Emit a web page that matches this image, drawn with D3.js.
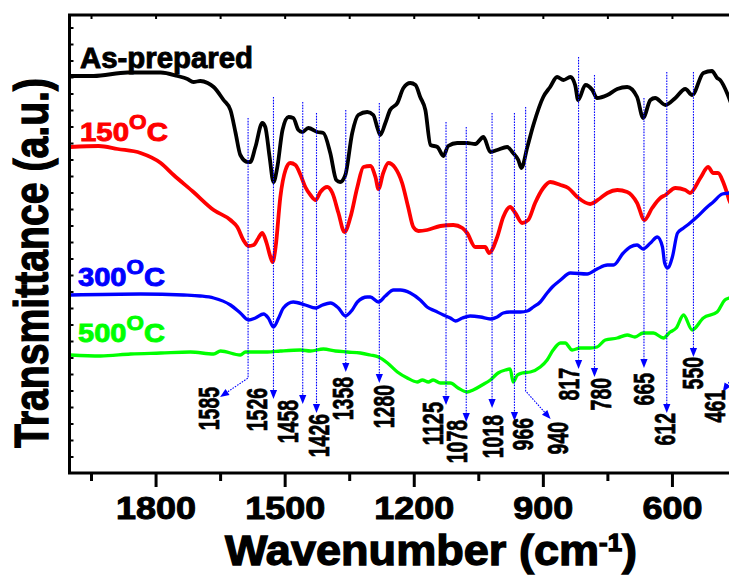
<!doctype html>
<html>
<head>
<meta charset="utf-8">
<style>
  body { margin: 0; background: #fff; }
  svg { display: block; overflow: hidden; background: #fff; }
  text { font-family: "Liberation Sans", Arial, Helvetica, sans-serif; font-weight: bold; }
</style>
<script src="https://cdnjs.cloudflare.com/ajax/libs/d3/7.8.5/d3.min.js"></script>
</head>
<body>
<script>

// spectra: [wavenumber (cm-1), transmittance (a.u., offset)]
var asPrepared = [[1998,79.4],[1944,79.4],[1865,80.1],[1788,80.1],[1749,79.4],[1726,78.8],[1712,78.2],[1696,78.4],[1679,78.0],[1665,77.2],[1642,74.6],[1626,72.6],[1614,68.0],[1603,63.6],[1586,62.2],[1580,62.2],[1568,65.2],[1552,70.0],[1545,69.2],[1535,63.2],[1526,58.2],[1517,61.2],[1505,68.6],[1491,71.2],[1480,71.0],[1468,68.6],[1459,68.2],[1445,69.0],[1424,68.2],[1410,68.0],[1394,64.0],[1380,58.6],[1371,58.2],[1359,59.6],[1343,68.0],[1329,71.6],[1308,72.2],[1294,71.6],[1285,69.2],[1278,67.6],[1266,70.0],[1255,72.6],[1238,74.0],[1224,77.0],[1208,78.0],[1196,77.6],[1185,75.2],[1173,72.6],[1161,65.6],[1145,65.2],[1131,63.4],[1120,65.4],[1099,66.0],[1076,66.0],[1057,65.8],[1038,67.2],[1022,64.2],[1006,64.6],[983,65.2],[969,64.0],[957,62.6],[950,61.0],[936,65.2],[922,69.6],[899,75.2],[883,77.2],[867,79.2],[852,78.6],[836,79.2],[825,77.6],[818,74.6],[801,77.6],[785,76.6],[774,75.0],[750,75.6],[727,76.8],[704,77.2],[681,75.2],[667,71.0],[650,74.6],[639,75.0],[615,73.6],[592,75.0],[569,76.8],[553,75.6],[527,80.0],[507,80.4],[495,79.0],[488,78.6],[470,75.6],[455,72.0]];

var t150 = [[1998,65.2],[1932,65.4],[1888,64.8],[1835,64.0],[1788,62.0],[1758,59.6],[1712,56.2],[1665,52.6],[1626,50.6],[1610,49.2],[1596,46.6],[1584,45.4],[1572,45.6],[1561,47.0],[1552,48.0],[1542,46.0],[1533,43.2],[1528,42.2],[1521,45.2],[1510,55.2],[1498,60.6],[1487,62.0],[1475,61.6],[1463,59.6],[1452,57.2],[1440,55.6],[1428,54.6],[1417,56.2],[1401,57.2],[1389,56.0],[1375,52.0],[1361,48.2],[1347,51.2],[1331,57.2],[1317,61.2],[1301,61.4],[1289,59.2],[1282,56.8],[1271,60.0],[1259,62.0],[1243,61.0],[1227,58.0],[1213,53.2],[1201,49.2],[1189,48.4],[1169,48.6],[1138,49.4],[1108,49.6],[1087,49.0],[1076,48.0],[1057,45.2],[1034,45.2],[1025,44.0],[1006,47.2],[992,51.2],[976,53.2],[964,52.0],[948,50.0],[934,50.6],[918,54.0],[899,57.0],[883,58.2],[859,57.6],[841,57.0],[820,55.2],[790,53.8],[766,55.0],[750,56.0],[727,56.6],[704,56.2],[681,54.0],[664,50.6],[646,53.0],[627,55.0],[615,55.6],[592,57.0],[569,56.6],[558,56.0],[534,59.0],[516,61.2],[504,60.0],[493,60.0],[481,58.2],[472,56.0],[467,54.6],[455,53.0]];

var t300 = [[1998,35.6],[1835,35.8],[1735,35.6],[1696,35.4],[1665,35.0],[1626,33.6],[1603,32.0],[1584,30.6],[1568,31.0],[1549,31.8],[1538,31.0],[1526,29.2],[1514,31.0],[1503,33.0],[1480,34.2],[1452,33.6],[1428,33.0],[1412,33.6],[1394,34.0],[1375,33.0],[1359,31.4],[1343,32.6],[1331,34.2],[1308,35.2],[1301,35.2],[1282,34.2],[1266,35.4],[1247,36.6],[1231,36.6],[1208,36.0],[1185,34.6],[1169,33.2],[1150,32.4],[1131,31.6],[1115,31.0],[1103,30.4],[1087,31.0],[1069,31.4],[1045,31.2],[1022,30.8],[1006,31.2],[992,32.0],[976,32.2],[952,32.2],[936,32.4],[922,33.2],[906,34.2],[890,36.0],[878,37.2],[859,38.6],[836,40.0],[797,39.8],[774,40.8],[750,41.6],[736,41.6],[713,44.0],[697,45.2],[681,45.6],[667,44.8],[650,46.0],[634,47.2],[622,45.2],[617,42.0],[610,41.0],[599,43.2],[587,48.0],[573,49.0],[558,50.0],[542,51.2],[518,53.2],[504,54.2],[483,55.8],[467,56.0],[455,56.2]];

var t500 = [[1998,23.6],[1928,23.4],[1858,23.8],[1788,24.0],[1719,24.2],[1665,23.8],[1649,24.4],[1603,23.6],[1591,24.2],[1540,24.2],[1510,24.4],[1463,24.6],[1440,24.4],[1410,24.8],[1382,24.4],[1354,24.2],[1324,24.0],[1301,23.6],[1282,23.2],[1261,22.0],[1238,20.2],[1215,19.0],[1192,18.2],[1180,18.6],[1166,18.2],[1155,18.6],[1138,18.0],[1115,18.0],[1097,17.0],[1076,16.2],[1062,16.6],[1041,17.6],[1022,18.6],[1004,20.0],[987,20.6],[976,20.8],[969,18.2],[959,19.6],[948,20.0],[929,20.2],[906,21.2],[890,22.6],[876,24.6],[859,26.0],[848,26.0],[832,24.6],[813,25.0],[790,25.0],[774,25.2],[755,26.6],[727,27.0],[704,27.6],[686,27.2],[667,28.0],[643,28.0],[620,27.0],[604,28.2],[590,29.0],[573,31.6],[553,28.6],[527,31.0],[495,32.2],[477,34.6],[467,35.0],[455,35.4]];

var seriesNames = ["As-prepared", "150", "300", "500"];
var seriesColors = ["#000000", "#ff0000", "#0000ff", "#00ff00"];

// marked bands (cm-1)
var peaks = [1585, 1526, 1458, 1426, 1358, 1280, 1125, 1078, 1018, 966, 940, 817, 780, 665, 612, 550, 461];

var xTicks = [1800, 1500, 1200, 900, 600];
var xMinor = [1950, 1650, 1350, 1050, 750, 450];

// ---- layout ----
var W = 729, H = 577;
var plotLeft = 69.5, plotRight = 758, plotTop = 15, plotBottom = 473;

// annotation layout: line top / arrow tip / bend in y units, offsets in px
var peakLayout = [
  {top: 71.0, tip: 15.2, bend: 19.0, tdx: -28, ldx: -12, ldy: -10},
  {top: 75.2, tip: 14.8, ldx: -17, ldy: -11},
  {top: 74.2, tip: 13.8, ldx: -15, ldy: -4},
  {top: 72.0, tip: 12.0, ldx: 2, ldy: 1},
  {top: 72.6, tip: 20.2, ldx: -3, ldy: 5},
  {top: 74.0, tip: 18.0, ldx: 4, ldy: 2},
  {top: 70.2, tip: 13.6, ldx: -14, ldy: -3},
  {top: 69.2, tip: 10.2, ldx: -10, ldy: -2},
  {top: 72.0, tip: 13.0, ldx: 0, ldy: 7},
  {top: 72.0, tip: 10.4, ldx: 8, ldy: -3},
  {top: 73.2, tip: 10.8, bend: 16.4, tdx: 25, ldx: 7, ldy: 3},
  {top: 83.2, tip: 20.8, ldx: -10, ldy: -1},
  {top: 79.6, tip: 19.2, ldx: 6, ldy: 1},
  {top: 75.0, tip: 21.0, ldx: 0, ldy: 5},
  {top: 80.2, tip: 12.0, ldx: -2, ldy: 0},
  {top: 80.2, tip: 23.2, ldx: -1, ldy: 0},
  {top: 80.2, tip: 16.2, bend: 19.0, tdx: -9, ldx: -8, ldy: -2}
];

var labelLayout = [
  {x: 80, y: 68, size: 29, len: 173},
  {x: 80, y: 141, size: 26, len: 88},
  {x: 78, y: 286, size: 26, len: 87},
  {x: 78, y: 342, size: 26, len: 87}
];

var x = d3.scaleLinear().domain([2000, 400]).range([plotLeft, plotRight]);
var y = d3.scaleLinear().domain([0, 91.6]).range([plotBottom, plotTop]);

var svg = d3.select("body").append("svg")
  .attr("width", W)
  .attr("height", H);

svg.append("defs").append("clipPath").attr("id", "plotclip")
  .append("rect")
  .attr("x", plotLeft).attr("y", plotTop)
  .attr("width", plotRight - plotLeft).attr("height", plotBottom - plotTop);

var series = [asPrepared, t150, t300, t500].map(function(d, i) {
  return {name: seriesNames[i], color: seriesColors[i], data: d};
});
var widths = [3.8, 3.8, 3.3, 3.3];

var line = d3.line()
  .x(function(d) { return x(d[0]); })
  .y(function(d) { return y(d[1]); })
  .curve(d3.curveMonotoneX);

var plot = svg.append("g").attr("clip-path", "url(#plotclip)");

plot.selectAll(".spec")
  .data(series)
  .enter().append("path")
  .attr("class", "spec")
  .attr("fill", "none")
  .attr("stroke", function(d) { return d.color; })
  .attr("stroke-width", function(d, i) { return widths[i]; })
  .attr("stroke-linejoin", "round")
  .attr("d", function(d) { return line(d.data); });

// series labels
series.forEach(function(s, i) {
  var L = labelLayout[i];
  var t = svg.append("text")
    .attr("x", L.x).attr("y", L.y)
    .attr("font-size", L.size)
    .attr("fill", s.color)
    .attr("stroke", s.color)
    .attr("stroke-width", 0.9)
    .attr("textLength", L.len)
    .attr("lengthAdjust", "spacingAndGlyphs");
  t.append("tspan").text(s.name);
  if (i > 0) {
    t.append("tspan").attr("font-size", 20).attr("dy", -12).text("O");
    t.append("tspan").attr("dy", 12).text("C");
  }
});

// peak markers
function arrowHead(tx, ty, ang) {
  var L = 9, w = 3.6;
  var bx = tx - L * Math.cos(ang), by = ty - L * Math.sin(ang);
  var px = -Math.sin(ang) * w, py = Math.cos(ang) * w;
  return "M" + tx + "," + ty + "L" + (bx + px) + "," + (by + py) + "L" + (bx - px) + "," + (by - py) + "Z";
}

var marks = svg.append("g");
peaks.forEach(function(p, i) {
  var L = peakLayout[i];
  var px = x(p);
  var tipX = px + (L.tdx || 0), tipY = y(L.tip);
  var fromX = px, fromY = L.bend !== undefined ? y(L.bend) : y(L.top);
  var ang = Math.atan2(tipY - fromY, tipX - fromX);
  var endX = tipX - 8 * Math.cos(ang), endY = tipY - 8 * Math.sin(ang);
  var d = "M" + px + "," + y(L.top);
  if (L.bend !== undefined) d += "L" + px + "," + y(L.bend);
  d += "L" + endX + "," + endY;
  marks.append("path")
    .attr("d", d)
    .attr("fill", "none")
    .attr("stroke", "#0000ff")
    .attr("stroke-width", 1.1)
    .attr("stroke-dasharray", "1.6,1.2");
  marks.append("path")
    .attr("d", arrowHead(tipX, tipY, ang))
    .attr("fill", "#0000ff");

  var txt = String(p);
  var len = txt.length * 10.8;
  var cx = tipX + L.ldx, ty = tipY + L.ldy;
  marks.append("text")
    .attr("transform", "translate(" + (cx + 10.5) + "," + (ty + len) + ") rotate(-90)")
    .attr("font-size", 29)
    .attr("fill", "#000")
    .attr("stroke", "#000")
    .attr("stroke-width", 0.7)
    .attr("textLength", len)
    .attr("lengthAdjust", "spacingAndGlyphs")
    .text(txt);
});

// frame
svg.append("rect")
  .attr("x", plotLeft).attr("y", plotTop)
  .attr("width", plotRight - plotLeft).attr("height", plotBottom - plotTop)
  .attr("fill", "none")
  .attr("stroke", "#000")
  .attr("stroke-width", 3);

// bottom axis
var gx = svg.append("g")
  .attr("transform", "translate(0," + plotBottom + ")")
  .call(d3.axisBottom(x).tickValues(xTicks).tickSize(14).tickFormat(d3.format("d")));
gx.select(".domain").remove();
gx.selectAll(".tick line").attr("stroke", "#000").attr("stroke-width", 3);
gx.selectAll(".tick text")
  .attr("y", 46).attr("dy", 0)
  .attr("fill", "#000")
  .attr("stroke", "#000")
  .attr("stroke-width", 1)
  .attr("font-size", 32)
  .attr("textLength", function(d) { return String(d).length * 20; })
  .attr("lengthAdjust", "spacingAndGlyphs");

var gxm = svg.append("g")
  .attr("transform", "translate(0," + plotBottom + ")")
  .call(d3.axisBottom(x).tickValues(xMinor).tickSize(8).tickFormat(""));
gxm.select(".domain").remove();
gxm.selectAll(".tick line").attr("stroke", "#000").attr("stroke-width", 3);

// top and left inner ticks
var gt = svg.append("g")
  .attr("transform", "translate(0," + plotTop + ")")
  .call(d3.axisTop(x).tickValues(xTicks.concat(xMinor)).tickSize(-4).tickFormat(""));
gt.select(".domain").remove();
gt.selectAll(".tick line").attr("stroke", "#000").attr("stroke-width", 2);

var gy = svg.append("g")
  .attr("transform", "translate(" + plotLeft + ",0)")
  .call(d3.axisLeft(y).tickValues(d3.range(3.3, 91, 3.3)).tickSize(-4).tickFormat(""));
gy.select(".domain").remove();
gy.selectAll(".tick line").attr("stroke", "#000").attr("stroke-width", 2);

// axis titles
var xt = svg.append("text")
  .attr("x", 225).attr("y", 565)
  .attr("font-size", 42)
  .attr("fill", "#000")
  .attr("stroke", "#000")
  .attr("stroke-width", 1.3)
  .attr("textLength", 412)
  .attr("lengthAdjust", "spacingAndGlyphs");
xt.append("tspan").text("Wavenumber (cm");
xt.append("tspan").attr("font-size", 24).attr("dy", -14).text("-1");
xt.append("tspan").attr("dy", 14).text(")");

svg.append("text")
  .attr("transform", "translate(48,263) rotate(-90)")
  .attr("text-anchor", "middle")
  .attr("font-size", 49)
  .attr("fill", "#000")
  .attr("stroke", "#000")
  .attr("stroke-width", 1.3)
  .attr("textLength", 370)
  .attr("lengthAdjust", "spacingAndGlyphs")
  .text("Transmittance (a.u.)");

</script>
</body>
</html>
